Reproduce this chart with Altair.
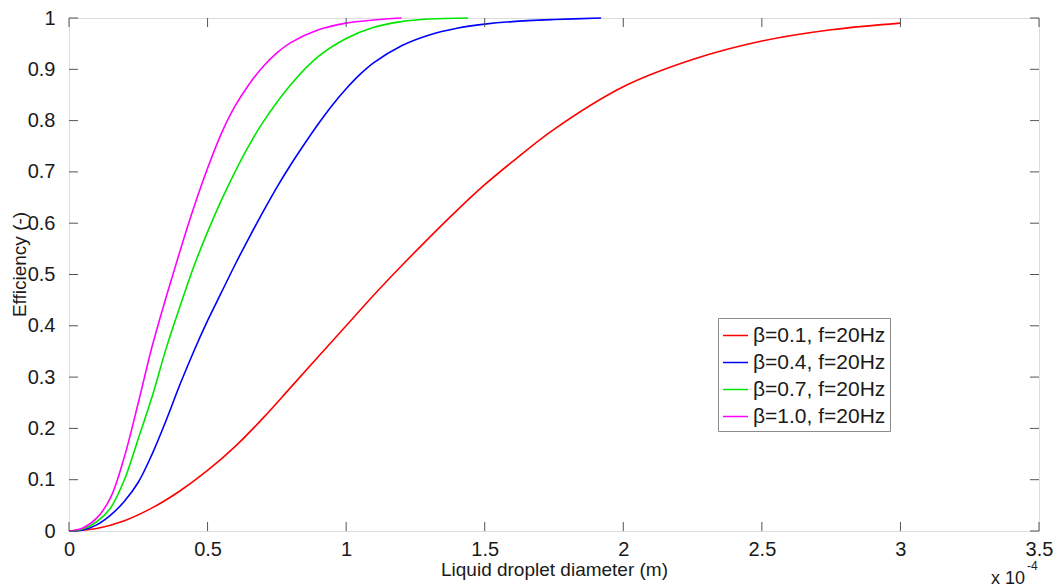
import altair as alt
import pandas as pd

# Diameters in units of 1e-4 m, efficiencies
labels = ["β=0.1, f=20Hz", "β=0.4, f=20Hz", "β=0.7, f=20Hz", "β=1.0, f=20Hz"]
colors = ["#ff0000", "#0000ff", "#00e600", "#ff00ff"]

d_b01 = [0, 0.1, 0.2, 0.3, 0.4, 0.5, 0.6, 0.7, 0.8, 0.9, 1.0, 1.1, 1.2, 1.3, 1.4, 1.5, 1.6, 1.75, 2.0, 2.25, 2.5, 2.75, 3.0]
e_b01 = [0, 0.005, 0.02, 0.045, 0.078, 0.118, 0.165, 0.22, 0.28, 0.34, 0.4, 0.46, 0.517, 0.572, 0.625, 0.675, 0.72, 0.783, 0.866, 0.919, 0.955, 0.977, 0.99]

d_b04 = [0, 0.05, 0.1, 0.15, 0.2, 0.25, 0.3, 0.35, 0.4, 0.45, 0.5, 0.55, 0.6, 0.65, 0.7, 0.75, 0.8, 0.85, 0.9, 0.95, 1.0, 1.05, 1.1, 1.2, 1.3, 1.4, 1.5, 1.6, 1.75, 1.92]
e_b04 = [0, 0.002, 0.012, 0.031, 0.058, 0.095, 0.15, 0.215, 0.285, 0.35, 0.41, 0.465, 0.52, 0.572, 0.622, 0.67, 0.714, 0.755, 0.794, 0.83, 0.862, 0.89, 0.913, 0.946, 0.967, 0.98, 0.988, 0.993, 0.997, 1.0]

d_b07 = [0, 0.05, 0.1, 0.15, 0.2, 0.25, 0.3, 0.35, 0.4, 0.45, 0.5, 0.55, 0.6, 0.65, 0.7, 0.8, 0.9, 1.0, 1.1, 1.2, 1.3, 1.44]
e_b07 = [0, 0.004, 0.018, 0.045, 0.1, 0.18, 0.262, 0.355, 0.437, 0.515, 0.583, 0.645, 0.701, 0.752, 0.797, 0.87, 0.925, 0.96, 0.982, 0.993, 0.998, 1.0]

d_b10 = [0, 0.05, 0.1, 0.15, 0.2, 0.25, 0.3, 0.35, 0.4, 0.45, 0.5, 0.55, 0.6, 0.65, 0.7, 0.75, 0.8, 0.9, 1.0, 1.1, 1.2]
e_b10 = [0, 0.006, 0.025, 0.065, 0.145, 0.25, 0.36, 0.455, 0.545, 0.63, 0.707, 0.775, 0.829, 0.871, 0.905, 0.932, 0.952, 0.977, 0.99, 0.996, 1.0]

x_ticks = [0, 0.5, 1, 1.5, 2, 2.5, 3, 3.5]
y_ticks = [0, 0.1, 0.2, 0.3, 0.4, 0.5, 0.6, 0.7, 0.8, 0.9, 1.0]

rows = []
for lab, ds, es in zip(labels, [d_b01, d_b04, d_b07, d_b10], [e_b01, e_b04, e_b07, e_b10]):
    for d, e in zip(ds, es):
        rows.append({"series": lab, "d": d, "eff": e})
df = pd.DataFrame(rows)
xt = pd.DataFrame({"t": x_ticks})
yt = pd.DataFrame({"t": y_ticks})

FONT = "Liberation Sans"
W, H = 970, 513
xscale = alt.Scale(domain=[0, 3.5], nice=False, zero=False)
yscale = alt.Scale(domain=[0, 1], nice=False, zero=False)

x_axis = alt.Axis(values=x_ticks, format="~g", title="Liquid droplet diameter (m)",
                  ticks=False, tickSize=0, domain=False, grid=False,
                  labelFlush=False, labelOverlap=False, labelBound=False,
                  labelFont=FONT, labelFontSize=20, labelColor="#1a1a1a",
                  labelBaseline="alphabetic", labelPadding=24,
                  titleFont=FONT, titleFontSize=19, titleFontWeight="normal",
                  titleColor="#1a1a1a", titleY=44, titleBaseline="alphabetic")
y_axis = alt.Axis(values=y_ticks, format="~g", title="Efficiency (-)",
                  ticks=False, tickSize=0, domain=False, grid=False,
                  labelFlush=False, labelOverlap=False, labelBound=False,
                  labelFont=FONT, labelFontSize=20, labelColor="#1a1a1a",
                  labelPadding=14,
                  titleFont=FONT, titleFontSize=19, titleFontWeight="normal",
                  titleColor="#1a1a1a", titleX=-44, titleY=246,
                  titleAngle=270, titleBaseline="alphabetic", titleAlign="center")

lines = alt.Chart(df).mark_line(strokeWidth=1.6, interpolate="catmull-rom").encode(
    x=alt.X("d:Q", scale=xscale, axis=x_axis),
    y=alt.Y("eff:Q", scale=yscale, axis=y_axis),
    color=alt.Color("series:N", scale=alt.Scale(domain=labels, range=colors),
                    sort=labels,
                    legend=alt.Legend(title=None, orient="none", legendX=649, legendY=300,
                                      symbolType="stroke", symbolSize=625, symbolStrokeWidth=1.5,
                                      labelFont=FONT, labelFontSize=21, labelColor="#1a1a1a",
                                      labelOffset=4, rowPadding=3, padding=4,
                                      strokeColor="#8a8a8a", fillColor="white")),
    order=alt.Order("d:Q"),
)

tick_color = "#555555"
xb = alt.Chart(xt).mark_rule(color=tick_color, strokeWidth=1).encode(
    x=alt.X("t:Q", scale=xscale, axis=x_axis), y=alt.value(H), y2=alt.value(H - 9))
xtp = alt.Chart(xt).mark_rule(color=tick_color, strokeWidth=1).encode(
    x=alt.X("t:Q", scale=xscale, axis=x_axis), y=alt.value(0), y2=alt.value(9))
yl = alt.Chart(yt).mark_rule(color=tick_color, strokeWidth=1).encode(
    y=alt.Y("t:Q", scale=yscale, axis=y_axis), x=alt.value(0), x2=alt.value(9))
yr = alt.Chart(yt).mark_rule(color=tick_color, strokeWidth=1).encode(
    y=alt.Y("t:Q", scale=yscale, axis=y_axis), x=alt.value(W), x2=alt.value(W - 9))

exp_base = alt.Chart(pd.DataFrame({"s": ["x 10"]})).mark_text(
    font=FONT, fontSize=18, align="right", baseline="alphabetic", color="#1a1a1a"
).encode(text="s:N", x=alt.value(956), y=alt.value(566))
exp_pow = alt.Chart(pd.DataFrame({"s": ["-4"]})).mark_text(
    font=FONT, fontSize=12, align="left", baseline="alphabetic", color="#1a1a1a"
).encode(text="s:N", x=alt.value(958), y=alt.value(552))

chart = alt.layer(lines, xb, xtp, yl, yr, exp_base, exp_pow).properties(
    width=W, height=H,
    autosize=alt.AutoSizeParams(type="none"),
    padding={"left": 69, "top": 18, "right": 19, "bottom": 57},
).configure_view(stroke="#8c8c8c", strokeWidth=1.5).configure(background="white")

chart.save("out.html", embed_options={"renderer": "svg", "actions": False})
